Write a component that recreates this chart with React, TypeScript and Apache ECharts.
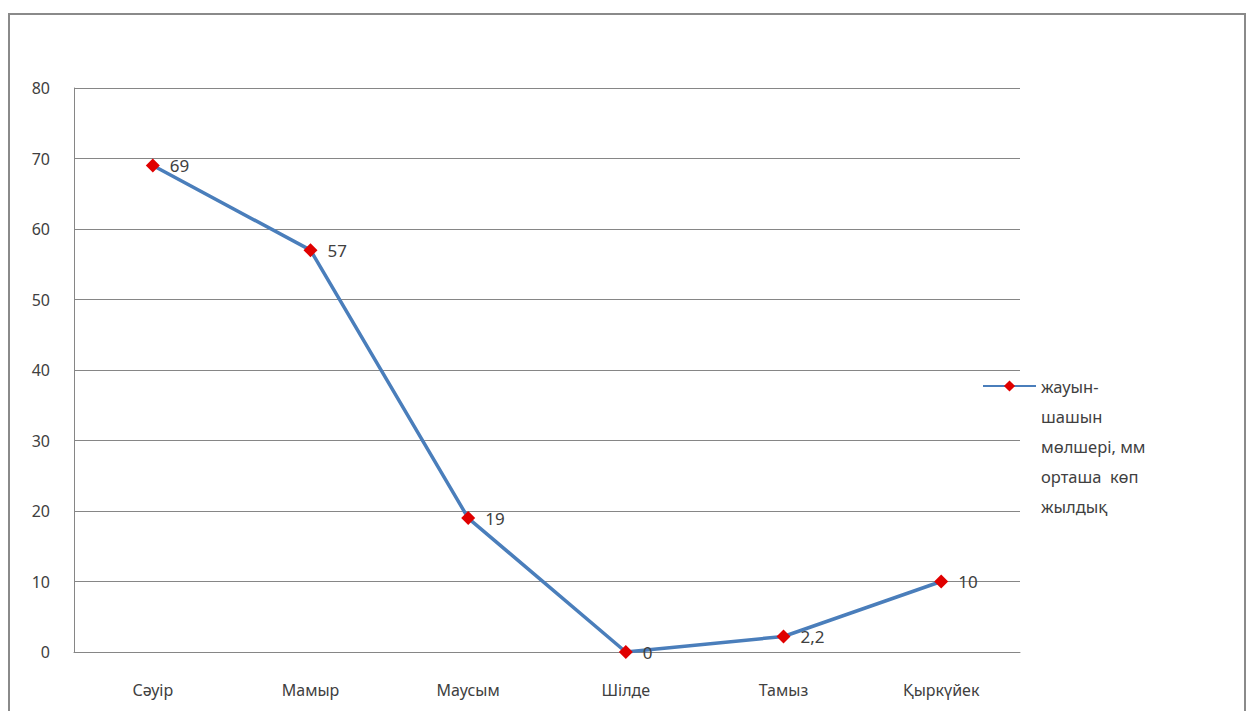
import React, { useEffect, useRef } from "react";
import * as echarts from "echarts";

const categories = ["Сәуір", "Мамыр", "Маусым", "Шілде", "Тамыз", "Қыркүйек"];
const values = [69, 57, 19, 0, 2.2, 10];
const seriesName = "жауын-шашын мөлшері, мм орташа көп жылдық";
const legendLines = ["жауын-", "шашын", "мөлшері, мм", "орташа  көп", "жылдық"];

export default function App() {
  const ref = useRef<HTMLDivElement>(null);
  useEffect(() => {
    if (!ref.current) return;
    const chart = echarts.init(ref.current, undefined, { renderer: "svg" });
    const font = "'Noto Sans', 'DejaVu Sans', sans-serif";
    chart.setOption({
      animation: false,
      backgroundColor: "#ffffff",
      textStyle: { fontFamily: font },
      grid: { left: 74, right: 230, top: 88, bottom: 59, containLabel: false },
      graphic: [
        {
          type: "rect",
          shape: { x: 9, y: 14, width: 1236, height: 720 },
          style: { fill: "none", stroke: "#8a8a8a", lineWidth: 2 },
          silent: true,
        },
      ],
      legend: {
        left: 982,
        top: 251,
        padding: 0,
        orient: "vertical",
        itemWidth: 53,
        itemHeight: 14,
        itemGap: 5,
        selectedMode: false,
        formatter: () => "\n\n\n\n" + legendLines.join("\n"),
        textStyle: {
          fontFamily: font,
          fontSize: 16.5,
          color: "#404040",
          lineHeight: 30,
        },
      },
      xAxis: {
        type: "category",
        data: categories,
        boundaryGap: true,
        axisLine: { show: true, lineStyle: { color: "#868686", width: 1 } },
        axisTick: { show: false },
        axisLabel: { color: "#404040", fontSize: 16, margin: 30, fontFamily: font },
        splitLine: { show: false },
      },
      yAxis: {
        type: "value",
        min: 0,
        max: 80,
        interval: 10,
        axisLine: { show: true, lineStyle: { color: "#868686", width: 1 } },
        axisTick: { show: false },
        axisLabel: { color: "#404040", fontSize: 16, margin: 24, fontFamily: font },
        splitLine: { show: true, lineStyle: { color: "#868686", width: 1 } },
      },
      series: [
        {
          name: seriesName,
          type: "line",
          data: values,
          symbol: "diamond",
          symbolSize: 14,
          lineStyle: { color: "#4a7ebb", width: 3.5 },
          itemStyle: { color: "#e00000" },
          label: {
            show: true,
            position: "right",
            distance: 10,
            color: "#404040",
            fontSize: 17,
            fontFamily: font,
            formatter: (p: any) => String(p.value).replace(".", ","),
          },
        },
      ],
    });
    return () => chart.dispose();
  }, []);
  return (
    <div
      ref={ref}
      style={{ position: "absolute", left: 0, top: 0, width: 1250, height: 711 }}
    />
  );
}
